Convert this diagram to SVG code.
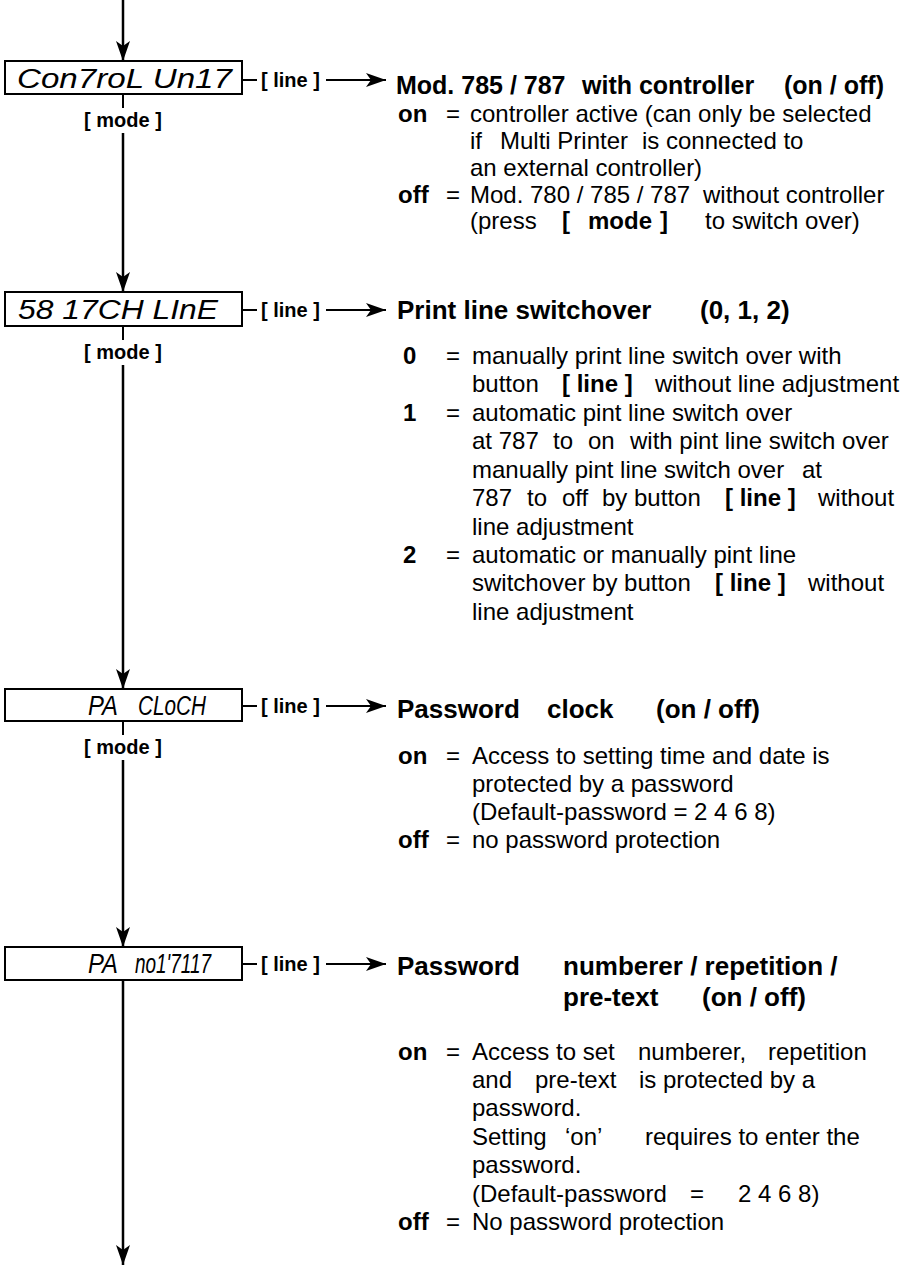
<svg xmlns="http://www.w3.org/2000/svg" width="900" height="1267" viewBox="0 0 900 1267">
<style>
text{font-family:"Liberation Sans",Arial,sans-serif;fill:#000}
.b{font-weight:bold}
.h{font-size:26px;font-weight:bold}
.h1{font-size:25px;font-weight:bold}
.t{font-size:24px}
.lb{font-size:20px;font-weight:bold}
.lcd{font-style:italic;font-size:27px;font-weight:normal}
.box{fill:#fff;stroke:#000;stroke-width:2}
.ln{stroke:#000;stroke-width:2.5;fill:none}
.tk{stroke:#000;stroke-width:2;fill:none}
</style>
<defs>
<marker id="ah" viewBox="0 0 20 14" refX="20" refY="7" markerWidth="20" markerHeight="14" markerUnits="userSpaceOnUse" orient="auto">
<path d="M0,0 L20,7 L0,14 L5,7 Z" fill="#000"/>
</marker>
</defs>
<g id="connectors">
<line class="ln" x1="123" y1="0" x2="123" y2="61" marker-end="url(#ah)"/>
<line class="tk" x1="123" y1="94" x2="123" y2="108"/>
<line class="ln" x1="123" y1="133" x2="123" y2="292" marker-end="url(#ah)"/>
<line class="tk" x1="123" y1="326" x2="123" y2="340"/>
<line class="ln" x1="123" y1="365" x2="123" y2="689" marker-end="url(#ah)"/>
<line class="tk" x1="123" y1="721" x2="123" y2="735"/>
<line class="ln" x1="123" y1="760" x2="123" y2="947" marker-end="url(#ah)"/>
<line class="ln" x1="123" y1="980" x2="123" y2="1265" marker-end="url(#ah)"/>
<line class="tk" x1="243" y1="80" x2="257" y2="80"/>
<line class="tk" x1="326" y1="80" x2="386" y2="80" marker-end="url(#ah)"/>
<line class="tk" x1="243" y1="310" x2="257" y2="310"/>
<line class="tk" x1="326" y1="310" x2="386" y2="310" marker-end="url(#ah)"/>
<line class="tk" x1="243" y1="706" x2="257" y2="706"/>
<line class="tk" x1="326" y1="706" x2="386" y2="706" marker-end="url(#ah)"/>
<line class="tk" x1="243" y1="964" x2="257" y2="964"/>
<line class="tk" x1="326" y1="964" x2="386" y2="964" marker-end="url(#ah)"/>
<text class="lb" x="261" y="87">[ line ]</text>
<text class="lb" x="261" y="317">[ line ]</text>
<text class="lb" x="261" y="713">[ line ]</text>
<text class="lb" x="261" y="971">[ line ]</text>
<text class="lb" x="123" y="127" text-anchor="middle">[ mode ]</text>
<text class="lb" x="123" y="359" text-anchor="middle">[ mode ]</text>
<text class="lb" x="123" y="754" text-anchor="middle">[ mode ]</text>
</g>
<g id="node-control-unit">
<rect class="box" x="5" y="61" width="237" height="33"/>
<text class="lcd" x="17" y="88" textLength="215" lengthAdjust="spacingAndGlyphs">Con7roL Un17</text>
</g>
<g id="node-switch-line">
<rect class="box" x="5" y="292" width="237" height="34"/>
<text class="lcd" x="18" y="319" textLength="200" lengthAdjust="spacingAndGlyphs">58 17CH LInE</text>
</g>
<g id="node-pa-clock">
<rect class="box" x="5" y="689" width="237" height="32"/>
<text class="lcd" x="88" y="715" textLength="30" lengthAdjust="spacingAndGlyphs">PA</text>
<text class="lcd" x="138" y="715" textLength="68" lengthAdjust="spacingAndGlyphs">CLoCH</text>
</g>
<g id="node-pa-numberer">
<rect class="box" x="5" y="947" width="237" height="33"/>
<text class="lcd" x="88" y="973" textLength="30" lengthAdjust="spacingAndGlyphs">PA</text>
<text class="lcd" x="135" y="973" textLength="76" lengthAdjust="spacingAndGlyphs">no1'7117</text>
</g>
<g id="desc-control-unit">
<text class="h1" x="396" y="94">Mod. 785 / 787</text>
<text class="h1" x="582" y="94">with controller</text>
<text class="h1" x="784" y="94">(on / off)</text>
<text class="t b" x="398" y="122">on</text><text class="t" x="446" y="122">=</text><text class="t" x="470" y="122">controller active (can only be selected</text>
<text class="t" x="470" y="149">if</text><text class="t" x="500" y="149">Multi Printer</text><text class="t" x="642" y="149">is connected to</text>
<text class="t" x="470" y="176">an external controller)</text>
<text class="t b" x="398" y="203">off</text><text class="t" x="446" y="203">=</text><text class="t" x="470" y="203">Mod. 780 / 785 / 787</text><text class="t" x="703" y="203">without controller</text>
<text class="t" x="470" y="229">(press</text><text class="t b" x="562" y="229">[</text><text class="t b" x="588" y="229">mode</text><text class="t b" x="660" y="229">]</text><text class="t" x="705" y="229">to switch over)</text>
</g>
<g id="desc-switch-line">
<text class="h" x="397" y="319">Print line switchover</text>
<text class="h" x="700" y="319">(0, 1, 2)</text>
<text class="t b" x="403" y="364">0</text><text class="t" x="446" y="364">=</text><text class="t" x="472" y="364">manually print line switch over with</text>
<text class="t" x="472" y="392">button</text><text class="t b" x="562" y="392">[ line ]</text><text class="t" x="655" y="392">without line adjustment</text>
<text class="t b" x="403" y="421">1</text><text class="t" x="446" y="421">=</text><text class="t" x="472" y="421">automatic pint line switch over</text>
<text class="t" x="472" y="449">at 787</text><text class="t" x="553" y="449">to</text><text class="t" x="588" y="449">on</text><text class="t" x="630" y="449">with pint line switch over</text>
<text class="t" x="472" y="478">manually pint line switch over</text><text class="t" x="802" y="478">at</text>
<text class="t" x="472" y="506">787</text><text class="t" x="527" y="506">to</text><text class="t" x="562" y="506">off</text><text class="t" x="602" y="506">by button</text><text class="t b" x="725" y="506">[ line ]</text><text class="t" x="818" y="506">without</text>
<text class="t" x="472" y="535">line adjustment</text>
<text class="t b" x="403" y="563">2</text><text class="t" x="446" y="563">=</text><text class="t" x="472" y="563">automatic or manually pint line</text>
<text class="t" x="472" y="591">switchover by button</text><text class="t b" x="715" y="591">[ line ]</text><text class="t" x="808" y="591">without</text>
<text class="t" x="472" y="620">line adjustment</text>
</g>
<g id="desc-pa-clock">
<text class="h" x="397" y="718">Password</text>
<text class="h" x="547" y="718">clock</text>
<text class="h" x="656" y="718">(on / off)</text>
<text class="t b" x="398" y="764">on</text><text class="t" x="446" y="764">=</text><text class="t" x="472" y="764">Access to setting time and date is</text>
<text class="t" x="472" y="792">protected by a password</text>
<text class="t" x="472" y="820">(Default-password = 2 4 6 8)</text>
<text class="t b" x="398" y="848">off</text><text class="t" x="446" y="848">=</text><text class="t" x="472" y="848">no password protection</text>
</g>
<g id="desc-pa-numberer">
<text class="h" x="397" y="975">Password</text>
<text class="h" x="563" y="975">numberer / repetition /</text>
<text class="h" x="563" y="1006">pre-text</text>
<text class="h" x="702" y="1006">(on / off)</text>
<text class="t b" x="398" y="1060">on</text><text class="t" x="446" y="1060">=</text><text class="t" x="472" y="1060">Access to set</text><text class="t" x="638" y="1060">numberer,</text><text class="t" x="768" y="1060">repetition</text>
<text class="t" x="472" y="1088">and</text><text class="t" x="535" y="1088">pre-text</text><text class="t" x="639" y="1088">is protected by a</text>
<text class="t" x="472" y="1116">password.</text>
<text class="t" x="472" y="1145">Setting</text><text class="t" x="565" y="1145">‘on’</text><text class="t" x="645" y="1145">requires to enter the</text>
<text class="t" x="472" y="1173">password.</text>
<text class="t" x="472" y="1202">(Default-password</text><text class="t" x="690" y="1202">=</text><text class="t" x="738" y="1202">2 4 6 8)</text>
<text class="t b" x="398" y="1230">off</text><text class="t" x="446" y="1230">=</text><text class="t" x="472" y="1230">No password protection</text>
</g>
</svg>
